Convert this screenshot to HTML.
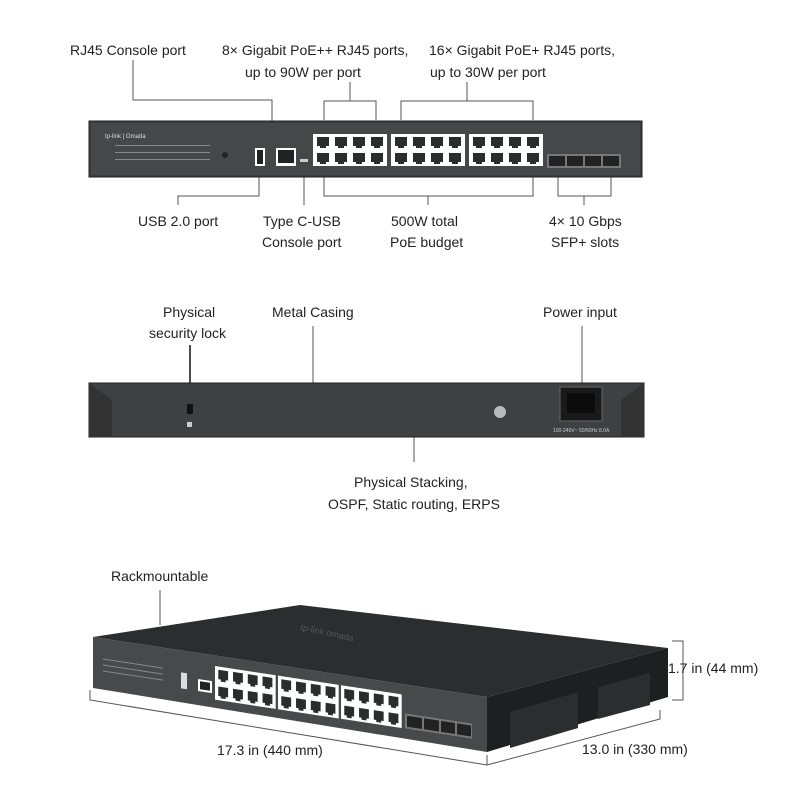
<!DOCTYPE html>
<html><head><meta charset="utf-8"><style>
html,body{margin:0;padding:0;background:#fff;}
svg{display:block;}
text{font-family:"Liberation Sans",sans-serif;font-size:14px;fill:#222;}
</style></head><body>
<svg width="800" height="800" viewBox="0 0 800 800" xmlns="http://www.w3.org/2000/svg">
<defs>
<g id="port"><rect x="0" y="0" width="16" height="14" fill="#fff"/><rect x="2" y="2" width="12" height="9" fill="#2a2c2e"/><rect x="5" y="10" width="6" height="3" fill="#2a2c2e"/></g>
<g id="pg"><rect x="0" y="0" width="74" height="32" fill="#fff"/>
<use href="#port" x="2" y="1"/><use href="#port" x="20" y="1"/><use href="#port" x="38" y="1"/><use href="#port" x="56" y="1"/>
<use href="#port" x="2" y="17"/><use href="#port" x="20" y="17"/><use href="#port" x="38" y="17"/><use href="#port" x="56" y="17"/></g>
</defs>
<g stroke="#555" stroke-width="1" fill="none">
<polyline points="133,60 133,100 272,100 272,140"/>
<polyline points="324,120 324,101 376,101 376,120"/><line x1="350" y1="82" x2="350" y2="101"/>
<polyline points="401,120 401,101 533,101 533,120"/><line x1="467" y1="82" x2="467" y2="101"/>
<polyline points="259,170 259,196 178,196 178,205"/>
<line x1="304" y1="172" x2="304" y2="205"/>
<polyline points="324,176 324,196 533,196 533,176"/><line x1="428" y1="196" x2="428" y2="205"/>
<polyline points="558,176 558,196 611,196 611,176"/><line x1="584" y1="196" x2="584" y2="205"/>
<line x1="190" y1="345" x2="190" y2="405" stroke="#111" stroke-width="1.5"/>
<line x1="313" y1="326" x2="313" y2="383"/>
<line x1="582" y1="326" x2="582" y2="390"/>
<line x1="414" y1="436" x2="414" y2="462"/>
<line x1="160" y1="590" x2="160" y2="625"/>
<polyline points="672,641 683,641 683,700 672,700"/>
<polyline points="90,690 90,700 487,765 660,719 660,710"/><line x1="487" y1="765" x2="487" y2="755"/>
</g>
<text x="70" y="55">RJ45 Console port</text>
<text x="222" y="55">8× Gigabit PoE++ RJ45 ports,</text>
<text x="245" y="77">up to 90W per port</text>
<text x="429" y="55">16× Gigabit PoE+ RJ45 ports,</text>
<text x="430" y="77">up to 30W per port</text>
<text x="138" y="226">USB 2.0 port</text>
<text x="263" y="226">Type C-USB</text><text x="262" y="247">Console port</text>
<text x="391" y="226">500W total</text><text x="390" y="247">PoE budget</text>
<text x="549" y="226">4× 10 Gbps</text><text x="551" y="247">SFP+ slots</text>
<text x="163" y="317">Physical</text><text x="149" y="338">security lock</text>
<text x="272" y="317">Metal Casing</text>
<text x="543" y="317">Power input</text>
<text x="354" y="487">Physical Stacking,</text>
<text x="328" y="509">OSPF, Static routing, ERPS</text>
<text x="111" y="581">Rackmountable</text>
<text x="668" y="673">1.7 in (44 mm)</text>
<text x="217" y="755">17.3 in (440 mm)</text>
<text x="582" y="754">13.0  in (330 mm)</text>
<rect x="89" y="121" width="553" height="56" fill="#3a3c3e" stroke="#222"/>
<rect x="91" y="123" width="549" height="52" fill="#454749"/>
<text x="105" y="138" style="font-size:6px;fill:#ddd">tp-link | Omada</text>
<g fill="#888"><rect x="115" y="145" width="95" height="1"/><rect x="115" y="152" width="95" height="1"/><rect x="115" y="159" width="95" height="1"/></g>
<circle cx="225" cy="155" r="3" fill="#222"/>
<rect x="255" y="148" width="10" height="18" fill="#fff"/><rect x="257" y="150" width="6" height="14" fill="#222"/>
<rect x="276" y="148" width="20" height="18" fill="#fff"/><rect x="278" y="150" width="16" height="13" fill="#222"/>
<rect x="300" y="159" width="8" height="3" fill="#ccc"/>
<use href="#pg" x="313" y="134"/><use href="#pg" x="391" y="134"/><use href="#pg" x="469" y="134"/>
<rect x="547" y="154" width="74" height="14" fill="#777"/>
<g fill="#222"><rect x="549" y="156" width="16" height="10"/><rect x="567" y="156" width="16" height="10"/><rect x="585" y="156" width="16" height="10"/><rect x="603" y="156" width="16" height="10"/></g>
<rect x="89" y="383" width="555" height="54" fill="#3e4042" stroke="#222"/>
<polygon points="89,383 112,400 112,437 89,437" fill="#333"/>
<polygon points="644,383 621,400 621,437 644,437" fill="#333"/>
<rect x="187" y="404" width="6" height="10" fill="#111"/>
<rect x="187" y="422" width="5" height="5" fill="#ccc"/>
<circle cx="500" cy="412" r="6" fill="#bbb"/>
<rect x="560" y="387" width="42" height="34" fill="#1a1a1a" stroke="#666"/>
<rect x="567" y="393" width="28" height="20" fill="#0c0c0c"/>
<text x="553" y="432" style="font-size:5px;fill:#ccc">100-240V~ 50/60Hz 8.0A</text>
<polygon points="93,637 300,605 668,648 487,697" fill="#2b2d2f"/>
<polygon points="487,697 668,648 668,697 487,752" fill="#1e1f20"/>
<g fill="#2c2d2f"><polygon points="510,712 578,692 578,728 510,748"/><polygon points="598,687 650,673 650,705 598,719"/></g>
<polygon points="93,637 487,697 487,752 93,688" fill="#47494b"/>
<text x="300" y="630" transform="rotate(12 300 630)" style="font-size:9px;fill:#555">tp-link omada</text>
<g transform="matrix(1,0.152,0,1,93,637)">
<rect x="88" y="22" width="6" height="16" fill="#ddd"/>
<rect x="105" y="26" width="14" height="12" fill="#fff"/><rect x="107" y="28" width="10" height="8" fill="#222"/>
<use href="#pg" x="0" y="10" transform="translate(122,0) scale(0.82,1.05)"/>
<use href="#pg" x="0" y="10" transform="translate(185,0) scale(0.82,1.05)"/>
<use href="#pg" x="0" y="10" transform="translate(248,0) scale(0.82,1.05)"/>
<rect x="312" y="29" width="67" height="15" fill="#777"/>
<g fill="#222"><rect x="314" y="31" width="15" height="11"/><rect x="331" y="31" width="15" height="11"/><rect x="348" y="31" width="14" height="11"/><rect x="364" y="31" width="14" height="11"/></g>
<g fill="#888"><rect x="10" y="20" width="60" height="1"/><rect x="10" y="26" width="60" height="1"/><rect x="10" y="32" width="60" height="1"/></g>
</g>
</svg>
</body></html>
